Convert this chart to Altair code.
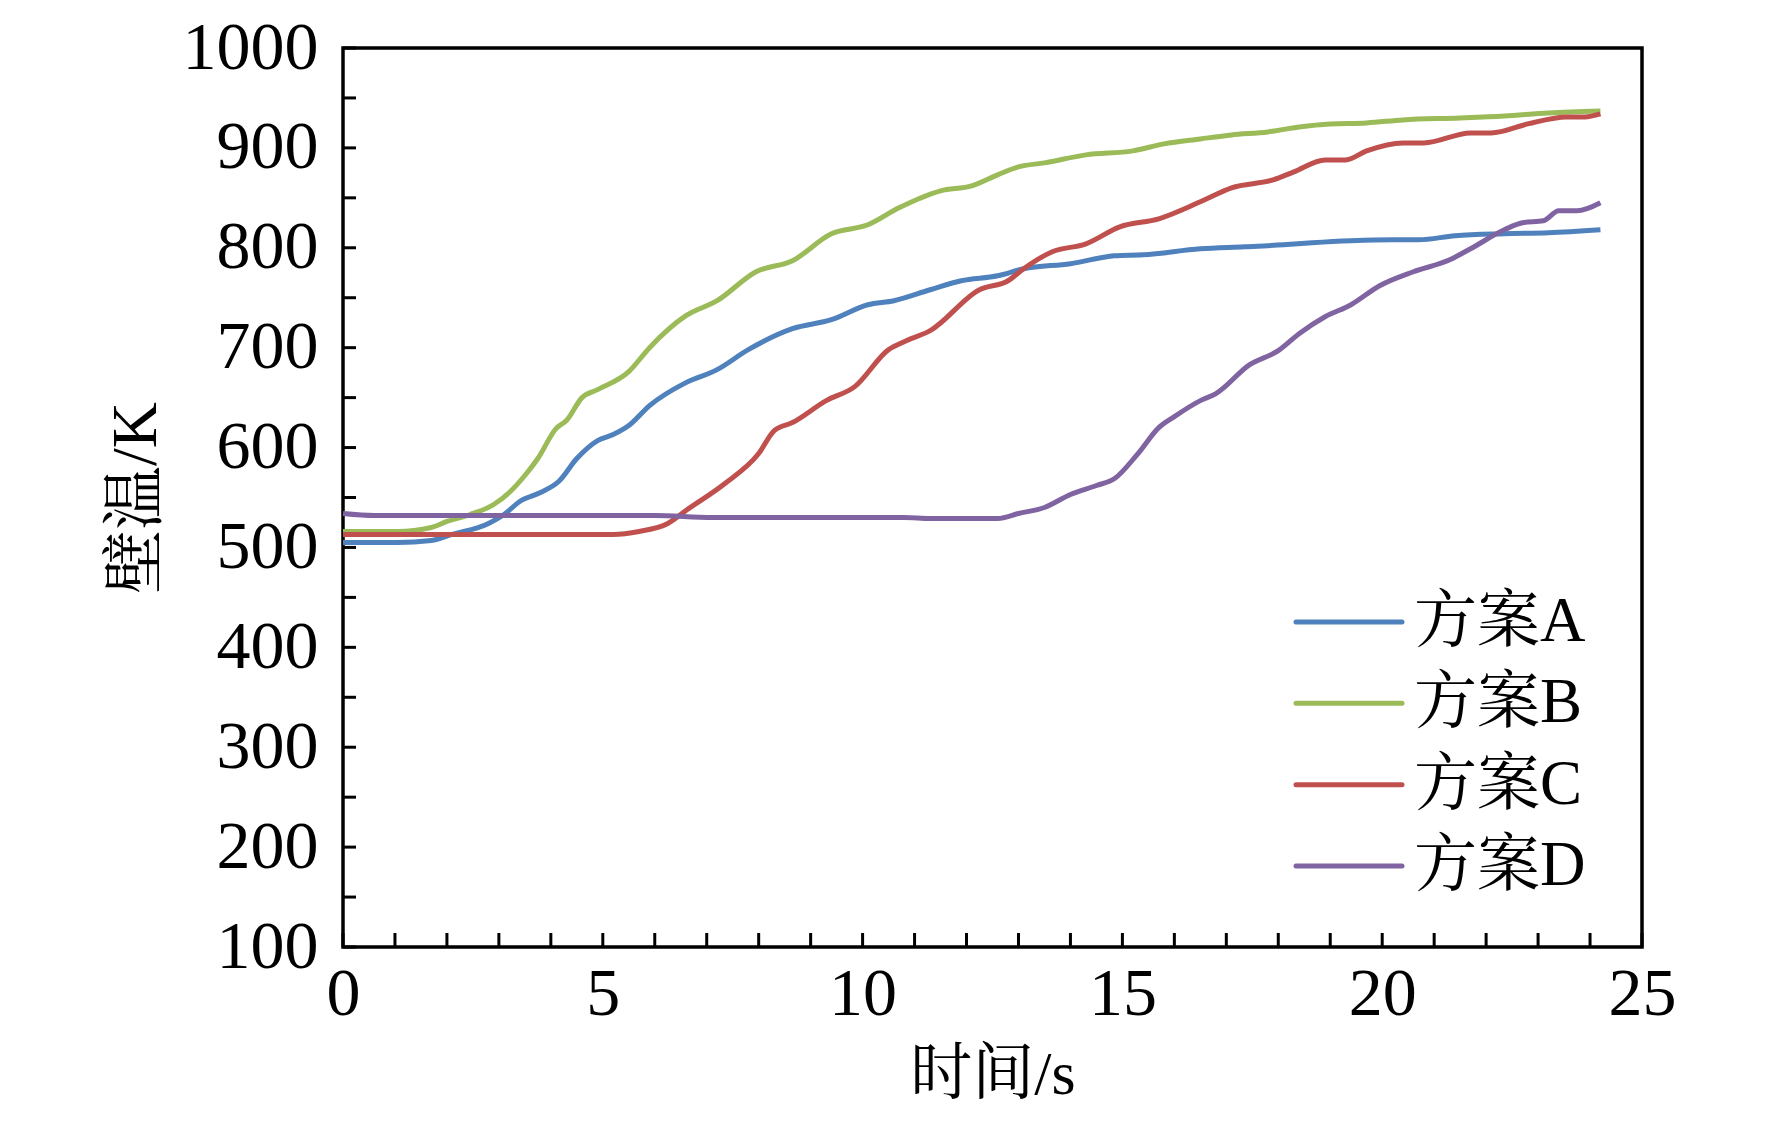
import altair as alt
import pandas as pd

# ---- data ----
series_names = ["方案A", "方案B", "方案C", "方案D"]
series_colors = ["#4F81BD", "#9BBB59", "#C0504D", "#8064A2"]

a_t = [0, 1.04, 1.7, 2.1, 2.8, 3.1, 3.4, 3.8, 4.15, 4.5, 4.9, 5.2, 5.5, 5.9, 6.6, 7.2, 7.8, 8.65, 9.4,
       10.1, 10.6, 11.3, 11.9, 12.6, 13.1, 14.0, 14.85, 15.4, 16.5, 17.35, 18.1, 18.65, 19.4, 20.2,
       20.7, 21.4, 22.35, 23.2, 24.2]
a_T = [505, 505, 507, 513, 524, 533, 546, 555, 566, 589, 607, 613, 622, 642, 665, 678, 698, 719, 728,
       743, 747, 758, 767, 772, 779, 784, 792, 793, 799, 801, 803, 805, 807, 808,
       808, 812, 814, 815, 818]

b_t = [0, 1.04, 1.7, 2.0, 2.45, 2.9, 3.2, 3.5, 3.75, 4.1, 4.3, 4.6, 4.9, 5.5, 5.9, 6.6, 7.2, 7.95, 8.65,
       9.4, 10.1, 10.7, 11.5, 12.1, 12.6, 13.0, 13.5, 14.3, 15.2, 15.8, 16.5, 17.1, 17.8, 18.4, 19.0,
       19.7, 20.4, 21.5, 22.35, 23.2, 24.2]
b_T = [516, 516, 520, 526, 533, 543, 555, 572, 589, 619, 627, 650, 658, 676, 700, 732, 747, 776, 787,
       814, 823, 840, 857, 862, 873, 881, 885, 893, 897, 904, 909, 913, 916, 921, 924,
       925, 928, 930, 932, 935, 937]

c_t = [0, 5.2, 5.7, 6.25, 6.6, 7.35, 8.0, 8.3, 8.65, 9.3, 9.85, 10.5, 10.8, 11.3, 12.25, 12.8, 13.1,
       13.65, 14.3, 14.95, 15.7, 16.5, 17.1, 17.9, 18.3, 18.9, 19.3, 19.7, 20.4, 20.8, 21.7, 22.1,
       22.8, 23.55, 23.9, 24.2]
c_T = [513, 513, 516, 524, 537, 564, 594, 617, 625, 647, 661, 698, 706, 717, 758, 767, 779,
       796, 804, 821, 829, 846, 860, 868, 876, 888, 888, 897, 905, 905, 915, 915,
       924, 931, 931, 934]

d_t = [0, 0.6, 6.0, 7.1, 10.8, 11.3, 12.6, 13.0, 13.5, 14.0, 14.5, 14.85, 15.3, 15.7, 16.0, 16.5,
       16.8, 17.45, 18.0, 18.4, 18.9, 19.4, 19.95, 20.6, 21.3, 21.7, 22.35, 22.7, 23.1, 23.4, 23.75, 24.2]
d_T = [534, 532, 532, 530, 530, 529, 529, 534, 540, 553, 562, 569, 594, 620, 631, 647,
       654, 683, 697, 714, 731, 743, 762, 776, 788, 799, 818, 825, 827, 837, 837, 845]

x_tick_values = list(range(0, 26, 5))
y_tick_values = list(range(100, 1001, 100))
x_minor = list(range(0, 26))
y_minor = list(range(100, 1001, 50))

# ---- tables ----
rows = []
for name, ts, Ts in zip(series_names, [a_t, b_t, c_t, d_t], [a_T, b_T, c_T, d_T]):
    for t, T in zip(ts, Ts):
        rows.append({"方案": name, "t": t, "T": T})
df = pd.DataFrame(rows)
xt_df = pd.DataFrame({"v": x_minor})
yt_df = pd.DataFrame({"v": y_minor})
leg_df = pd.DataFrame({"方案": series_names})

W, H = 1299, 899
TOP = 40
FONT = "Liberation Serif, Times New Roman, Noto Serif CJK SC, Noto Sans CJK SC"

xscale = alt.Scale(domain=[0, 25], nice=False, zero=False)
yscale = alt.Scale(domain=[100, 1000], nice=False, zero=False)
cscale = alt.Scale(domain=series_names, range=series_colors)
# legend rows: page y 622 .. 866 -> relative to plot top (8 + TOP)
leg_scale = alt.Scale(type="point", domain=series_names, range=[622 - 8 - TOP, 866 - 8 - TOP], padding=0)

xaxis = alt.Axis(values=x_tick_values, format="d", title="时间/s", ticks=False, domain=False, grid=False,
                 labelFont=FONT, labelFontSize=68, labelColor="black", labelPadding=13,
                 labelFlush=False, titleFont=FONT, titleFontSize=62, titleFontWeight="normal",
                 titleColor="black", titlePadding=16)
yaxis = alt.Axis(values=y_tick_values, format="d", title="壁温/K", ticks=False, domain=False, grid=False,
                 labelFont=FONT, labelFontSize=68, labelColor="black", labelPadding=25,
                 labelFlush=False, titleFont=FONT, titleFontSize=64, titleFontWeight="normal",
                 titleColor="black", titlePadding=14)

lines = alt.Chart(df).mark_line(strokeWidth=5, interpolate="monotone").encode(
    x=alt.X("t:Q", scale=xscale, axis=xaxis),
    y=alt.Y("T:Q", scale=yscale, axis=yaxis),
    color=alt.Color("方案:N", scale=cscale, legend=None),
    detail="方案:N",
)

xticks = alt.Chart(xt_df).mark_rule(color="black", strokeWidth=3).encode(
    x=alt.X("v:Q", scale=xscale, axis=xaxis),
    y=alt.value(H),
    y2=alt.value(H - 14),
)

yticks = alt.Chart(yt_df).mark_rule(color="black", strokeWidth=3).encode(
    y=alt.Y("v:Q", scale=yscale, axis=None),
    x=alt.value(0),
    x2=alt.value(13),
)

leg_lines = alt.Chart(leg_df).mark_rule(strokeWidth=5, strokeCap="round").encode(
    y=alt.Y("方案:N", scale=leg_scale, axis=None),
    x=alt.value(953),
    x2=alt.value(1059),
    color=alt.Color("方案:N", scale=cscale, legend=None),
)

leg_text = alt.Chart(leg_df).mark_text(align="left", baseline="middle", font=FONT, fontSize=63,
                                       color="black").encode(
    y=alt.Y("方案:N", scale=leg_scale, axis=None),
    x=alt.value(1071),
    text="方案:N",
)

chart = alt.layer(lines, xticks, yticks, leg_lines, leg_text).resolve_scale(
    y="independent"
).properties(
    width=W, height=H,
    background="white",
    autosize=alt.AutoSizeParams(type="none"),
    padding={"left": 335, "top": TOP, "right": 100, "bottom": 166},
).configure_view(stroke="black", strokeWidth=3.5)

chart.save("out.html", embed_options={"renderer": "svg", "actions": False})
